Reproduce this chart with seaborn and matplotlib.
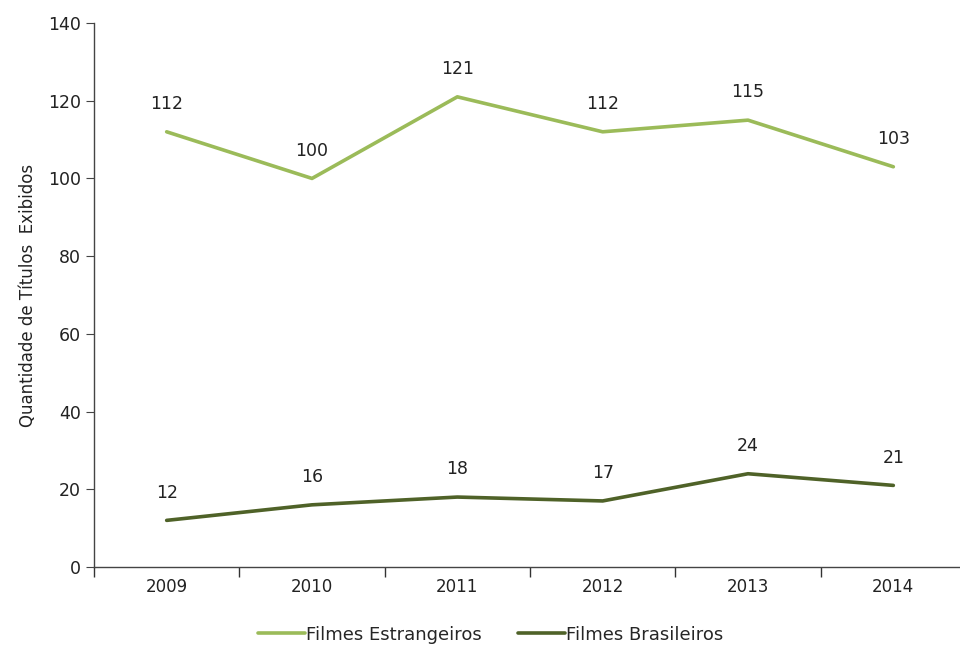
import matplotlib
matplotlib.use("Agg")
import matplotlib.pyplot as plt
import seaborn as sns
import pandas as pd
import numpy as np

years = ["2009", "2010", "2011", "2012", "2013", "2014"]
estrangeiros = [112, 100, 121, 112, 115, 103]
brasileiros = [12, 16, 18, 17, 24, 21]
series_names = ["Filmes Estrangeiros", "Filmes Brasileiros"]
colors = ["#9BBB59", "#4F6228"]

sns.set_style("white")
plt.rcParams['font.family'] = ['DejaVu Sans']

df = pd.DataFrame({
    "ano": years * 2,
    "valor": estrangeiros + brasileiros,
    "serie": [series_names[0]] * len(years) + [series_names[1]] * len(years),
})
df["x"] = list(range(len(years))) * 2

fig = plt.figure(figsize=(9.6, 6.45), dpi=100)
ax = fig.add_axes([94 / 960, 78 / 645, 872 / 960, 544 / 645])

sns.lineplot(data=df, x="x", y="valor", hue="serie", palette=colors,
             linewidth=2.6, ax=ax, legend=True)

for _, row in df.iterrows():
    ax.annotate(str(row["valor"]), (row["x"], row["valor"]),
                xytext=(0, 20), textcoords="offset points",
                ha="center", va="center", fontsize=12.5, color="#222222")

ax.set_xlim(-0.5, len(years) - 0.5)
ax.set_ylim(0, 140)
ax.set_yticks(range(0, 141, 20))
ax.set_xticks(np.arange(len(years)))
ax.set_xticklabels(years)
ax.set_xticks(np.arange(-0.5, len(years), 1), minor=True)
ax.tick_params(axis="x", which="major", length=0, labelsize=12, pad=8, colors="#222222")
ax.tick_params(axis="x", which="minor", bottom=True, length=7, width=1, direction="out", color="#333333")
ax.tick_params(axis="y", left=True, length=6, direction="out", labelsize=12.5, color="#444444", labelcolor="#222222")

for side in ["top", "right"]:
    ax.spines[side].set_visible(False)
for side in ["left", "bottom"]:
    ax.spines[side].set_color("#444444")
    ax.spines[side].set_linewidth(1)

ax.set_xlabel("")
ax.set_ylabel("Quantidade de Títulos  Exibidos", fontsize=12, color="#222222", labelpad=8)

ax.legend(loc="upper center", bbox_to_anchor=(0.455, -0.078), ncol=2, frameon=False,
          fontsize=13, handlelength=2.6, handletextpad=0.05, columnspacing=2.0)

fig.savefig("out.png", dpi=100)
